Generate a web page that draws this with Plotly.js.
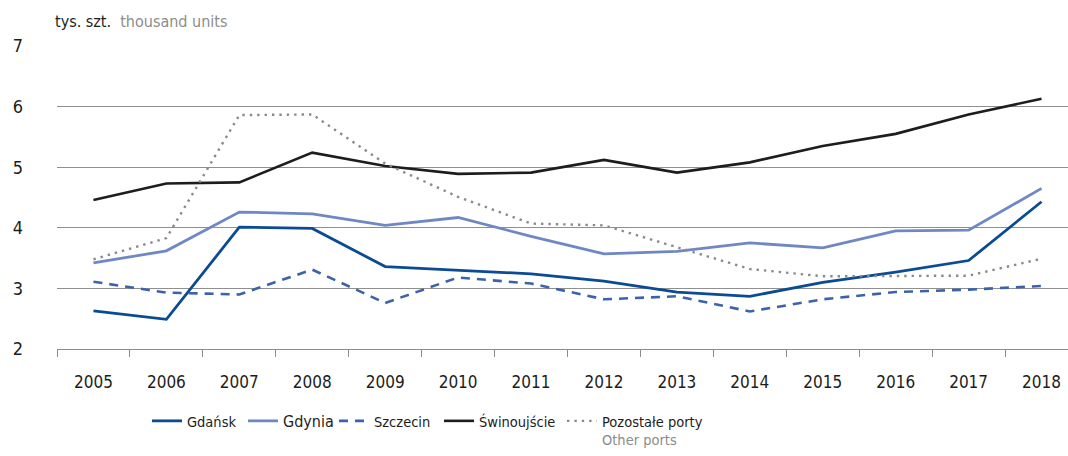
<!DOCTYPE html>
<html>
<head>
<meta charset="utf-8">
<script src="https://cdn.plot.ly/plotly-3.0.1.min.js"></script>
<style>html,body{margin:0;padding:0;background:#fff;}#chart{width:1068px;height:456px;}</style>
</head>
<body>
<div id="chart"></div>
<script>
const years = ['2005','2006','2007','2008','2009','2010','2011','2012','2013','2014','2015','2016','2017','2018'];
const gdansk = [2.63, 2.49, 4.01, 3.99, 3.36, 3.30, 3.24, 3.12, 2.94, 2.87, 3.10, 3.27, 3.46, 4.43];
const gdynia = [3.42, 3.62, 4.26, 4.23, 4.04, 4.17, 3.86, 3.57, 3.61, 3.75, 3.67, 3.95, 3.96, 4.65];
const szczecin = [3.11, 2.93, 2.90, 3.31, 2.76, 3.18, 3.08, 2.82, 2.87, 2.62, 2.82, 2.94, 2.98, 3.04];
const swinoujscie = [4.46, 4.73, 4.75, 5.24, 5.02, 4.89, 4.91, 5.12, 4.91, 5.08, 5.35, 5.55, 5.87, 6.13];
const otherPorts = [3.48, 3.83, 5.86, 5.87, 5.06, 4.51, 4.07, 4.04, 3.68, 3.32, 3.20, 3.21, 3.21, 3.49];
const names = ['Gdańsk', '<span style="font-size:16px">Gdynia</span>', 'Szczecin', 'Świnoujście', 'Pozostałe porty<br><span style="color:#8c8c8c">Other ports</span>'];

const FONT = '"DejaVu Sans Condensed", "Liberation Sans Narrow", "Roboto", sans-serif';

const traces = [
  {x: years, y: gdansk, name: names[0], mode: 'lines', line: {color: '#0b4b93', width: 2.8}, legendwidth: 51},
  {x: years, y: gdynia, name: names[1], mode: 'lines', line: {color: '#6f87c2', width: 2.8}, legendwidth: 46},
  {x: years, y: szczecin, name: names[2], mode: 'lines', line: {color: '#3c63a9', width: 2.6, dash: '9px,7px'}, legendwidth: 60},
  {x: years, y: swinoujscie, name: names[3], mode: 'lines', line: {color: '#1d1d1b', width: 2.6}, legendwidth: 78},
  {x: years, y: otherPorts, name: names[4], mode: 'lines', line: {color: '#8a8a8a', width: 2.4, dash: '2.4px,5px'}}
];

const layout = {
  width: 1068, height: 456,
  margin: {l: 57, r: 0, t: 46, b: 107},
  paper_bgcolor: '#fff', plot_bgcolor: '#fff',
  font: {family: FONT, size: 16, color: '#1d1d1b'},
  showlegend: true,
  legend: {orientation: 'h', x: 0.089, xanchor: 'left', yref: 'container', y: 0.112, yanchor: 'top',
           font: {family: FONT, size: 14.5, color: '#1d1d1b'}, itemwidth: 30, traceorder: 'normal', valign: 'top'},
  xaxis: {
    type: 'category', range: [-0.5, 13.363], fixedrange: true,
    showgrid: false, zeroline: false,
    showline: true, linecolor: '#8c8c8c', linewidth: 1,
    tickson: 'boundaries', ticks: 'outside', ticklen: 7, tickcolor: '#8c8c8c', tickwidth: 1,
    tickfont: {family: FONT, size: 17, color: '#1d1d1b'},
    ticklabelstandoff: 18
  },
  yaxis: {
    range: [2, 7], dtick: 1, tick0: 2, fixedrange: true,
    showgrid: true, gridcolor: '#8f8f8f', gridwidth: 1,
    zeroline: false, showline: false, ticks: '',
    tickfont: {family: FONT, size: 18, color: '#1d1d1b'},
    ticklabelstandoff: 33
  },
  annotations: [{
    xref: 'paper', yref: 'paper', x: -0.004, y: 1.081, xanchor: 'left', yanchor: 'middle',
    showarrow: false, align: 'left',
    text: 'tys. szt.  <span style="color:#8c8c8c">thousand units</span>',
    font: {family: FONT, size: 16, color: '#1d1d1b'}
  }]
};

Plotly.newPlot('chart', traces, layout, {displayModeBar: false, staticPlot: true});
</script>
</body>
</html>
